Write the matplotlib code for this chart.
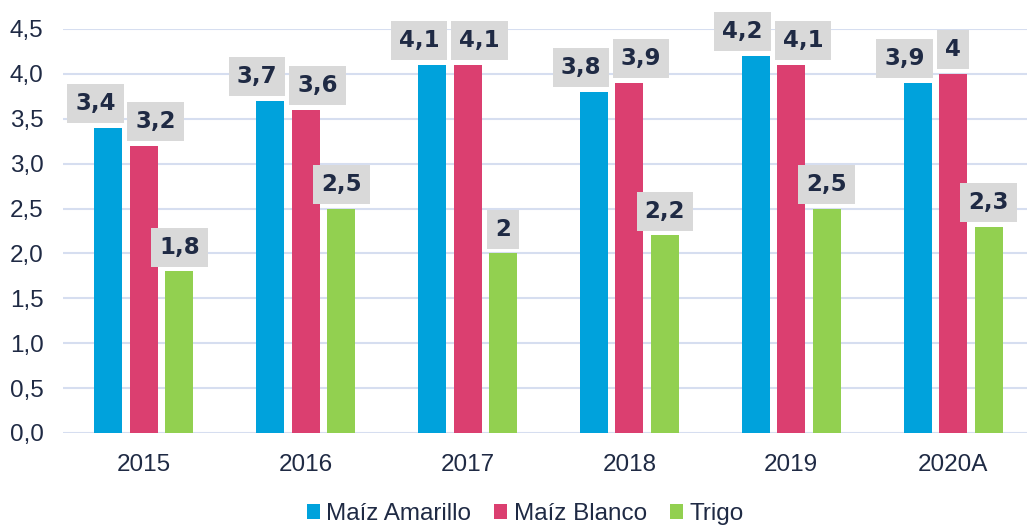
import matplotlib
matplotlib.use("Agg")
import matplotlib.pyplot as plt
import numpy as np

categories = ["2015", "2016", "2017", "2018", "2019", "2020A"]
series_names = ["Maíz Amarillo", "Maíz Blanco", "Trigo"]
maiz_amarillo = [3.4, 3.7, 4.1, 3.8, 4.2, 3.9]
maiz_blanco = [3.2, 3.6, 4.1, 3.9, 4.1, 4.0]
trigo = [1.8, 2.5, 2.0, 2.2, 2.5, 2.3]
yticks = [0.0, 0.5, 1.0, 1.5, 2.0, 2.5, 3.0, 3.5, 4.0, 4.5]

colors = ["#00A2DC", "#DB3F70", "#92D050"]
text_color = "#1F2A44"
grid_color = "#D6DEF0"

fig = plt.figure(figsize=(10.27, 5.25), dpi=100)
ax_left = 63 / 1027
ax_right = 1034 / 1027
ax_bottom = 1 - 433 / 525
ax_top = 1 - 29 / 525
ax = fig.add_axes([ax_left, ax_bottom, ax_right - ax_left, ax_top - ax_bottom])

x = np.arange(len(categories))
bw = 0.173
pitch = 0.219
offsets = [-pitch, 0, pitch]
aligns = ["right", "left", "center"]
all_series = [maiz_amarillo, maiz_blanco, trigo]

def fmt(v):
    s = ("%.1f" % v)
    if s.endswith(".0"):
        s = s[:-2]
    return s.replace(".", ",")

for i, (vals, name) in enumerate(zip(all_series, series_names)):
    bars = ax.bar(x + offsets[i], vals, width=bw, color=colors[i], label=name, zorder=3)
    for b, v in zip(bars, vals):
        ha = aligns[i]
        if ha == "right":
            tx = b.get_x() + b.get_width()
            dx = -5
        elif ha == "left":
            tx = b.get_x()
            dx = 4
        else:
            tx = b.get_x() + b.get_width() / 2
            dx = 0
        ax.annotate(fmt(v), xy=(tx, v), xytext=(dx, 9), textcoords="offset points",
                    ha=ha, va="bottom", fontsize=16.5, fontweight="bold",
                    family="DejaVu Sans", color=text_color, zorder=5,
                    annotation_clip=False,
                    bbox=dict(boxstyle="square,pad=0.35", fc="#D9D9D9", ec="none"))

ax.set_xlim(-0.5, len(categories) - 0.5)
ax.set_ylim(0, 4.5)
ax.set_yticks(yticks)
ax.set_yticklabels([("%.1f" % t).replace(".", ",") for t in yticks],
                   fontsize=17.5, color=text_color, family="Liberation Sans")
ax.set_xticks(x)
ax.set_xticklabels(categories, fontsize=17.5, color=text_color, family="Liberation Sans")
ax.tick_params(axis="y", length=0, pad=14)
ax.tick_params(axis="x", length=0, pad=15)
ax.grid(axis="y", color=grid_color, linewidth=1.5, zorder=0)
for s in ax.spines.values():
    s.set_visible(False)

fig.legend(loc="center", bbox_to_anchor=(525 / 1027, 11 / 525), ncol=3, frameon=False,
           prop={"family": "Liberation Sans", "size": 17.5}, labelcolor=text_color,
           handlelength=0.55, handleheight=0.55, handletextpad=0.25, columnspacing=0.95)

fig.savefig("out.png", dpi=100)
